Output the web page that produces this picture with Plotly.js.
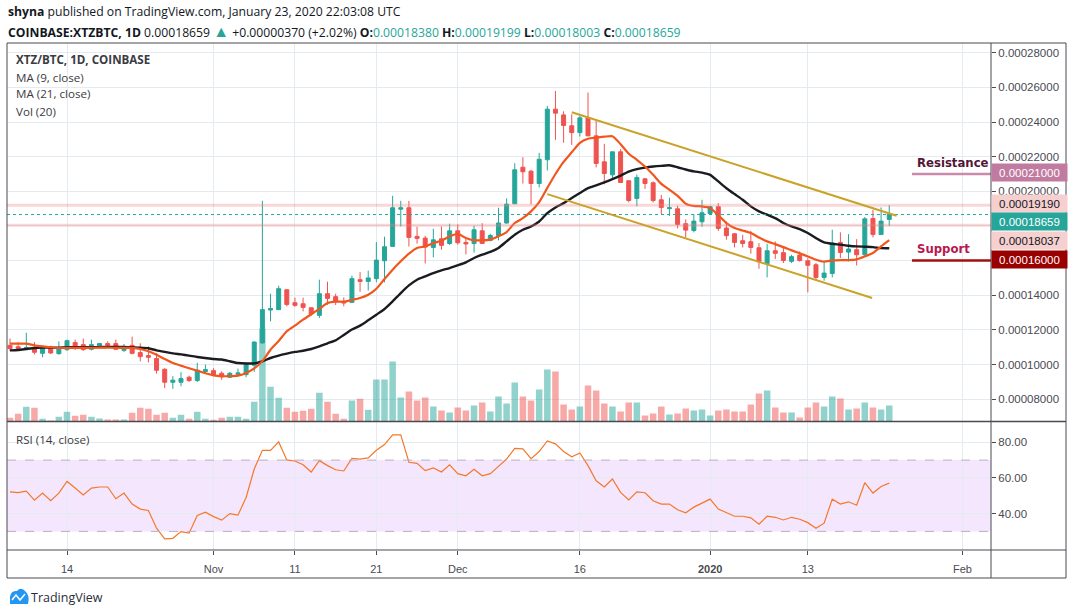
<!DOCTYPE html>
<html><head><meta charset="utf-8">
<script src="https://cdn.plot.ly/plotly-3.0.1.min.js"></script>
<style>html,body{margin:0;padding:0;background:#fff;overflow:hidden}#chart{width:1073px;height:615px}</style>
</head><body><div id="chart"></div>
<script>
// XTZ/BTC daily candles, Coinbase, prices in units of 0.00001 BTC
const startDate = '2019-10-07';
const openP = [11.11,11.03,10.95,10.96,10.65,10.96,10.63,10.86,11.27,11.15,10.88,11.01,11.21,11.21,10.82,11.11,10.69,10.52,10.35,9.73,8.98,8.98,9.27,9.08,9.6,9.65,9.5,9.27,9.44,9.42,9.96,11.25,13.15,13.17,14.32,13.57,13.51,13.28,12.84,14.09,13.92,13.65,13.59,14.9,14.8,14.96,15.99,16.82,18.97,19.05,17.4,17.3,16.76,17.26,16.99,17.72,17.05,16.99,17.72,17.17,17.45,18.17,19.28,21.39,21.16,20.45,21.82,24.74,24.41,23.78,23.39,24.24,23.2,21.7,20.95,22.28,20.61,19.59,20.72,20.49,19.51,19.0,18.99,18.13,17.74,18.24,18.72,19.11,17.88,17.55,17.15,17.09,16.74,15.82,16.57,16.46,15.96,16.32,15.99,15.76,15.03,15.26,17.05,16.49,16.63,16.34,18.43,17.51,18.38];
const highP = [11.5,11.3,11.84,11.3,11.05,11.09,11.34,11.44,11.44,11.5,11.44,11.25,11.34,11.44,11.19,11.61,11.23,11.05,10.67,9.79,9.33,9.56,9.36,10.1,10.0,9.79,9.61,9.57,9.77,10.1,11.34,19.45,14.09,14.55,14.32,13.86,13.86,13.28,14.9,14.78,14.09,13.88,15.13,15.34,15.42,17.07,17.38,19.74,19.45,19.45,17.96,17.43,17.84,17.97,18.13,18.09,17.26,18.01,18.16,17.55,19.05,19.59,21.62,21.97,21.24,22.22,24.93,25.79,24.62,24.45,24.37,25.7,24.08,22.74,22.28,22.43,20.61,20.97,20.76,20.57,19.8,19.63,19.17,18.38,18.68,19.51,19.17,19.32,18.26,17.59,17.49,17.72,17.01,16.97,17.11,16.82,16.34,16.53,16.13,15.86,15.96,17.78,17.63,17.53,17.24,18.51,18.93,19.07,19.199];
const lowP = [10.77,10.82,10.86,10.59,10.42,10.61,10.57,10.8,10.84,10.8,10.82,10.96,11.05,10.86,10.73,10.59,10.19,10.13,9.48,8.64,8.6,8.75,9.0,9.0,9.52,9.33,9.12,9.23,9.33,9.27,9.58,11.21,12.5,13.17,13.36,13.34,13.07,12.82,12.69,13.45,13.44,13.36,13.55,14.2,14.27,14.75,14.75,16.82,17.97,16.82,16.98,15.84,16.19,16.63,16.9,16.92,16.36,16.46,16.96,17.11,17.17,18.13,19.28,20.45,19.24,20.22,21.2,22.97,22.8,22.68,23.16,23.2,21.38,20.4,20.76,20.51,19.36,19.13,20.14,19.36,18.68,18.57,17.86,17.34,17.63,17.95,18.68,17.71,17.21,16.76,16.76,16.4,15.53,15.03,16.09,15.86,15.86,15.94,14.17,14.9,14.84,15.03,16.15,15.95,15.72,16.21,17.34,17.49,18.003];
const closeP = [10.92,10.92,10.98,10.71,11.0,10.67,10.96,11.38,11.0,10.86,11.15,11.21,11.11,10.88,11.01,10.65,10.46,10.42,9.67,8.98,9.1,9.19,9.08,9.67,9.71,9.42,9.29,9.5,9.52,10.0,11.3,13.17,13.23,14.38,13.47,13.42,13.3,12.92,14.09,13.82,13.67,13.55,14.96,14.8,15.0,16.03,16.8,19.05,19.05,17.34,17.28,16.78,17.2,16.88,17.72,17.03,16.96,17.78,16.99,17.45,18.17,19.26,21.24,21.13,20.45,21.85,24.74,24.51,23.8,23.39,24.24,23.2,21.61,21.03,22.28,20.51,19.47,20.8,20.45,19.47,19.07,19.05,18.09,17.76,18.28,18.76,19.11,17.86,17.44,17.05,16.99,16.76,15.94,16.57,16.42,16.01,16.23,16.01,15.73,15.03,15.28,17.01,16.47,16.67,16.34,18.41,17.51,18.28,18.659];
const ma9 = [11.21,11.21,11.21,11.11,11.05,11.0,10.96,10.96,10.96,10.96,10.96,10.98,10.98,10.96,10.96,10.96,10.9,10.77,10.57,10.32,10.09,9.94,9.79,9.65,9.5,9.38,9.33,9.33,9.36,9.52,9.78,10.2,10.86,11.36,11.92,12.25,12.59,12.9,13.21,13.55,13.63,13.63,13.73,13.84,14.03,14.38,14.94,15.48,15.96,16.4,16.73,16.82,17.01,17.15,17.4,17.55,17.3,17.17,17.17,17.21,17.4,17.65,18.17,18.45,18.84,19.38,20.2,21.0,21.7,22.25,22.8,23.03,23.1,23.15,23.18,22.72,22.17,21.82,21.43,20.95,20.43,20.09,19.74,19.28,19.15,19.13,19.03,18.62,18.17,17.88,17.74,17.59,17.34,17.11,16.95,16.78,16.59,16.42,16.24,16.05,15.94,16.01,16.03,16.03,16.07,16.24,16.44,16.82,17.18];
const ma21 = [10.82,10.84,10.9,10.96,10.98,10.98,10.98,11.0,11.0,11.0,11.0,11.01,11.02,11.02,11.02,11.0,10.98,10.94,10.82,10.73,10.65,10.59,10.52,10.44,10.38,10.32,10.29,10.19,10.09,10.06,10.07,10.19,10.38,10.52,10.63,10.73,10.8,10.9,11.05,11.23,11.4,11.71,12.02,12.25,12.56,12.88,13.21,13.65,14.13,14.57,14.9,15.09,15.28,15.44,15.57,15.73,15.9,16.15,16.34,16.5,16.73,17.11,17.49,17.78,17.97,18.26,18.74,19.07,19.32,19.61,19.9,20.18,20.34,20.51,20.7,20.91,21.14,21.28,21.37,21.43,21.47,21.5,21.39,21.26,21.15,21.08,20.95,20.57,20.18,19.84,19.51,19.13,18.84,18.65,18.45,18.17,17.97,17.82,17.59,17.3,17.05,16.97,16.92,16.86,16.82,16.8,16.78,16.72,16.71];
const volume = [3.7,7.7,14.7,13.7,2.7,1,4.7,9.7,5.7,6.7,4.7,3,2,2,2,8.7,13.7,12.7,6.7,8.7,3.7,6.7,2.7,9.7,2.7,1.7,3.7,4.7,4.7,2.7,19.7,92.7,34.7,23.7,13.7,9.7,10.7,12.7,28.7,19.7,7.7,2.7,21,22.7,11.7,42,42,60,24,30,21,24,15,11,9,14,11,16,19,10,25,18,39,25,21,32,52,50,17,12,15,36,31,18,15,10,19,19,6,8,15,7,8,13,11,12,6,11,12,10,10,17,28,31,14,9,9,4,14,19,15,25,23,12,13,19,14,12,16];
const rsi = [52.2,51.7,52.6,47.5,51.5,47.2,51.5,58.0,54.3,50.4,54.3,54.9,54.9,48.3,51.5,45.3,42.5,41.7,31.8,25.8,26.1,29.9,29.0,38.9,40.8,38.3,36.3,40.0,39.1,49.0,65.0,75.5,75.5,80.2,70.1,69.5,67.4,63.3,69.7,66.9,64.6,63.9,71.0,70.6,71.2,75.5,78.7,84.2,84.2,68.8,68.2,64.1,65.6,63.3,67.3,62.4,61.2,64.8,61.2,62.4,66.5,70.6,76.6,76.3,70.8,74.8,80.8,79.1,74.8,71.9,74.0,66.9,58.4,54.9,59.4,51.9,47.7,52.2,51.7,47.2,45.3,45.3,42.1,40.4,43.6,45.8,48.1,42.5,40.6,38.5,38.5,37.6,34.0,38.5,37.9,36.4,37.9,36.8,34.9,31.8,34.6,48.1,45.3,46.6,44.7,57.3,51.5,55.2,57.1];
// drawn objects
const upperLineDates = ['2019-12-15 00:00','2020-01-23 21:36'];
const upperLinePrices = [24.56, 18.59];
const lowerLineDates = ['2019-12-12 00:00','2020-01-20 21:36'];
const lowerLinePrices = [19.84, 13.84];
const bandLevels = [19.19, 18.037];
const lastPrice = 18.659;
const levelNames = ['Resistance','Support'];
const levelPrices = [21.0, 16.0];
const levelStart = '2020-01-25 19:00';
const levelTextAt = '2020-01-26 05:00';
// axes
const priceTicks = [8,10,12,14,16,18,20,22,24,26,28];
const priceTickText = ['0.00008000','0.00010000','0.00012000','0.00014000','','','0.00020000','0.00022000','0.00024000','0.00026000','0.00028000'];
const tickDates = ['2019-10-14','2019-11-01','2019-11-11','2019-11-21','2019-12-01','2019-12-16','2020-01-01','2020-01-13','2020-02-01'];
const tickLabels = ['14','Nov','11','21','Dec','16','<b>2020</b>','13','Feb'];
const rsiTicks = [40,60,80];

const U = 1e-5;
const sc = a => a.map(v => v * U);
const dates = openP.map((_, i) => {
  const d = new Date(Date.UTC(2019, 9, 7 + i));
  return d.toISOString().slice(0, 10);
});
const up = openP.map((o, i) => closeP[i] >= o);
const volColors = up.map(u => u ? 'rgba(38,166,154,0.5)' : 'rgba(239,83,80,0.5)');

const GREEN = '#26a69a', RED = '#ef5350';
const dPane = (550 - 421.5) / 507;
const px = x => (x - 7) / 984;
const py = y => (550 - y) / 507;

const traces = [
  {type:'bar', x:dates, y:volume, xaxis:'x', yaxis:'y', marker:{color:volColors, line:{width:0}},
   width:0.8*86400000, hoverinfo:'skip', showlegend:false},
  {type:'candlestick', x:dates, open:sc(openP), high:sc(highP), low:sc(lowP), close:sc(closeP),
   xaxis:'x', yaxis:'y3', whiskerwidth:0,
   increasing:{line:{color:GREEN, width:1}, fillcolor:GREEN},
   decreasing:{line:{color:RED, width:1}, fillcolor:RED}, showlegend:false, hoverinfo:'skip'},
  {type:'scatter', mode:'lines', x:dates, y:sc(ma21), xaxis:'x', yaxis:'y3',
   line:{color:'#1b1b22', width:2.4, shape:'spline', smoothing:0.6}, hoverinfo:'skip', showlegend:false},
  {type:'scatter', mode:'lines', x:dates, y:sc(ma9), xaxis:'x', yaxis:'y3',
   line:{color:'#f2561d', width:2.2, shape:'spline', smoothing:0.6}, hoverinfo:'skip', showlegend:false},
  {type:'scatter', mode:'lines', x:dates, y:rsi, xaxis:'x', yaxis:'y2',
   line:{color:'#f5782a', width:1.2}, hoverinfo:'skip', showlegend:false}
];

const GRID = '#e3ebf1';
const AX = '#4a4a52';
const shapes = [
  {type:'rect', xref:'paper', yref:'y2', x0:0, x1:1, y0:30, y1:70, fillcolor:'#f4e6fd', line:{width:0}, layer:'below'},
  {type:'line', xref:'paper', yref:'y2', x0:0, x1:1, y0:70, y1:70, line:{color:'#b8b0c2', width:1, dash:'dash'}},
  {type:'line', xref:'paper', yref:'y2', x0:0, x1:1, y0:30, y1:30, line:{color:'#b8b0c2', width:1, dash:'dash'}},
  ...bandLevels.map(v => ({type:'line', xref:'paper', yref:'y3', x0:0, x1:1, y0:v*U, y1:v*U, line:{color:'rgba(236,130,130,0.32)', width:3}})),
  {type:'line', xref:'paper', yref:'y3', x0:0, x1:1, y0:lastPrice*U, y1:lastPrice*U, line:{color:GREEN, width:1, dash:'dot'}},
  {type:'line', xref:'x', yref:'y3', x0:upperLineDates[0], x1:upperLineDates[1], y0:upperLinePrices[0]*U, y1:upperLinePrices[1]*U, line:{color:'#c9a227', width:2}},
  {type:'line', xref:'x', yref:'y3', x0:lowerLineDates[0], x1:lowerLineDates[1], y0:lowerLinePrices[0]*U, y1:lowerLinePrices[1]*U, line:{color:'#c9a227', width:2}},
  {type:'line', xref:'x', yref:'y3', x0:levelStart, x1:'2020-02-05', y0:levelPrices[0]*U, y1:levelPrices[0]*U, line:{color:'#c98aab', width:2.5}},
  {type:'line', xref:'x', yref:'y3', x0:levelStart, x1:'2020-02-05', y0:levelPrices[1]*U, y1:levelPrices[1]*U, line:{color:'#a01010', width:2.5}},
  {type:'rect', xref:'paper', yref:'paper', x0:0, x1:px(1066), y0:py(578), y1:1, line:{color:AX, width:1}},
  {type:'line', xref:'paper', yref:'paper', x0:1, x1:1, y0:py(578), y1:1, line:{color:AX, width:1}},
  {type:'line', xref:'paper', yref:'paper', x0:0, x1:px(1066), y0:dPane, y1:dPane, line:{color:AX, width:1.5}},
  {type:'line', xref:'paper', yref:'paper', x0:0, x1:px(1066), y0:0, y1:0, line:{color:AX, width:1}},
  {type:'path', xref:'paper', yref:'paper', path:`M ${px(10)} ${py(604)} L ${px(10)} ${py(597)} Q ${px(11)} ${py(590)} ${px(17)} ${py(591)} Q ${px(21)} ${py(586)} ${px(26)} ${py(592)} Q ${px(30)} ${py(596)} ${px(28)} ${py(604)} Z`, fillcolor:'#2196f3', line:{width:0}},
  {type:'path', xref:'paper', yref:'paper', path:`M ${px(12)} ${py(600)} L ${px(16)} ${py(595)} L ${px(20)} ${py(600)} L ${px(25)} ${py(594)}`, line:{color:'#ffffff', width:1.5}}
];

const TXT = '#3b3b42';
const hdrFont = {family:'Open Sans, Noto Sans, sans-serif', size:12.2, color:'#131722'};
const lgFont = {family:'Open Sans, sans-serif', size:11.6, color:TXT};
const T = s => `<span style="color:${GREEN}">${s}</span>`;
const annotations = [
  {xref:'paper', yref:'paper', x:px(6), y:py(12), xanchor:'left', yanchor:'middle', showarrow:false,
   text:'<b>shyna</b> published on TradingView.com, January 23, 2020 22:03:08 UTC', font:hdrFont},
  {xref:'paper', yref:'paper', x:px(6), y:py(31), xanchor:'left', yanchor:'middle', showarrow:false,
   text:'<b>COINBASE:XTZBTC, 1D</b> 0.00018659 <span style="color:'+GREEN+';font-size:16px">▲</span> +0.00000370 (+2.02%) <b>O:</b>'+T('0.00018380')+' <b>H:</b>'+T('0.00019199')+' <b>L:</b>'+T('0.00018003')+' <b>C:</b>'+T('0.00018659'), font:hdrFont},
  {xref:'paper', yref:'paper', x:px(14), y:py(60), xanchor:'left', yanchor:'middle', showarrow:false, text:'<b>XTZ/BTC, 1D, COINBASE</b>', font:lgFont},
  {xref:'paper', yref:'paper', x:px(14), y:py(77), xanchor:'left', yanchor:'middle', showarrow:false, text:'MA (9, close)', font:lgFont},
  {xref:'paper', yref:'paper', x:px(14), y:py(94), xanchor:'left', yanchor:'middle', showarrow:false, text:'MA (21, close)', font:lgFont},
  {xref:'paper', yref:'paper', x:px(14), y:py(111), xanchor:'left', yanchor:'middle', showarrow:false, text:'Vol (20)', font:lgFont},
  {xref:'paper', yref:'paper', x:px(14), y:py(439), xanchor:'left', yanchor:'middle', showarrow:false, text:'RSI (14, close)', font:lgFont},
  {xref:'paper', yref:'paper', x:px(29), y:py(597), xanchor:'left', yanchor:'middle', showarrow:false, text:'TradingView', font:{family:'Open Sans, sans-serif', size:12.5, color:'#2a2e39'}},
  {xref:'x', yref:'y3', x:levelTextAt, y:levelPrices[0]*U, xanchor:'left', yanchor:'bottom', yshift:2, showarrow:false,
   text:'<b>'+levelNames[0]+'</b>', font:{family:'DejaVu Sans', size:11.7, color:'#531638'}},
  {xref:'x', yref:'y3', x:levelTextAt, y:levelPrices[1]*U, xanchor:'left', yanchor:'bottom', yshift:3, showarrow:false,
   text:'<b>'+levelNames[1]+'</b>', font:{family:'DejaVu Sans', size:11.7, color:'#b8184f'}}
];
const axisLabels = [
  {v:levelPrices[0], bg:'#c27ba0', c:'#ffffff', s:1},
  {v:bandLevels[0], bg:'#f6cfcf', c:'#131722', s:1.5},
  {v:lastPrice, bg:GREEN, c:'#ffffff', s:-7.2},
  {v:bandLevels[1], bg:'#f6cfcf', c:'#131722', s:-15},
  {v:levelPrices[1], bg:'#990000', c:'#ffffff', s:1}
];
axisLabels.forEach(a => annotations.push({
  xref:'paper', yref:'y3', x:1, y:a.v*U, xanchor:'left', yanchor:'middle', yshift:a.s, showarrow:false,
  text:(a.v*U).toFixed(8), bgcolor:a.bg, width:73, height:15, borderpad:1, align:'center',
  font:{family:'Liberation Sans, Arial, sans-serif', size:11.5, color:a.c}
}));

const layout = {
  width:1073, height:615, margin:{l:7, r:82, t:43, b:65}, paper_bgcolor:'#ffffff', plot_bgcolor:'#ffffff',
  showlegend:false, bargap:0.2, dragmode:false,
  xaxis:{type:'date', anchor:'y2', domain:[0,1], range:['2019-10-06 15:07','2020-02-04 12:00'],
    rangeslider:{visible:false}, tickvals:tickDates, ticktext:tickLabels, ticks:'outside', ticklen:4, tickcolor:AX,
    showgrid:true, gridcolor:GRID, gridwidth:1, showline:false, zeroline:false, ticklabelstandoff:5,
    tickfont:{family:'Liberation Sans, Arial, sans-serif', size:11, color:'#4a4a52'}},
  yaxis:{domain:[dPane,1], range:[0,378.5], visible:false, fixedrange:true},
  yaxis3:{overlaying:'y', side:'right', anchor:'x', range:[6.715*U, 28.559*U], tickvals:sc(priceTicks), ticktext:priceTickText,
    ticks:'outside', ticklen:4, tickcolor:AX, showgrid:true, gridcolor:GRID, zeroline:false, showline:false,
    tickfont:{family:'Liberation Sans, Arial, sans-serif', size:11.5, color:'#4a4a52'}},
  yaxis2:{domain:[0,dPane], side:'right', anchor:'x', range:[19.55,91.66], tickvals:rsiTicks, tickformat:'.2f',
    ticks:'outside', ticklen:4, tickcolor:AX, showgrid:true, gridcolor:GRID, zeroline:false, showline:false,
    tickfont:{family:'Liberation Sans, Arial, sans-serif', size:11.5, color:'#4a4a52'}},
  shapes, annotations
};
Plotly.newPlot('chart', traces, layout, {staticPlot:true, displayModeBar:false});
</script></body></html>
